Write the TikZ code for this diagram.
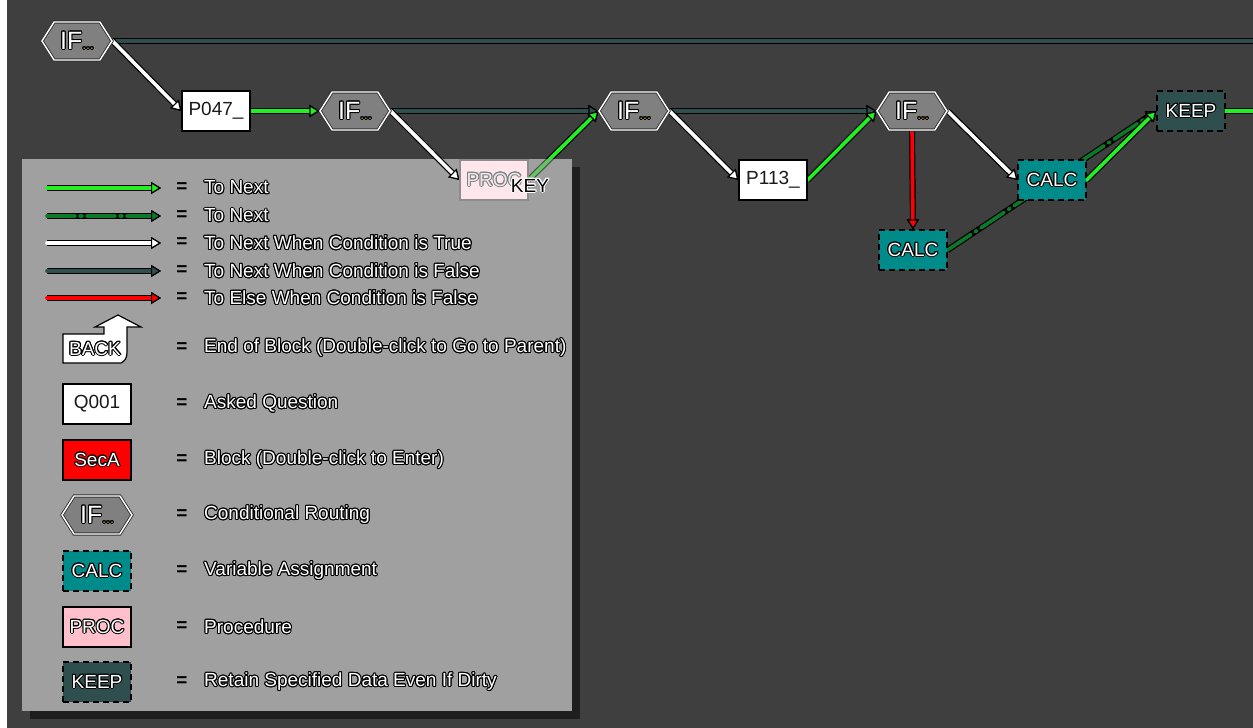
\documentclass[tikz,border=0pt]{standalone}
\usepackage{fontspec}
\setmainfont{Liberation Sans}
\usepackage{contour}
\usetikzlibrary{arrows.meta,shapes.symbols}
\contourlength{1pt}
\contournumber{16}

\definecolor{bgc}{HTML}{3F3F3F}
\definecolor{legc}{HTML}{A0A0A0}
\definecolor{shadowc}{HTML}{1E1E1E}
\definecolor{nextc}{HTML}{22F022}
\definecolor{dashc}{HTML}{0A7A28}
\definecolor{falsec}{HTML}{2F4F4F}
\definecolor{elsec}{HTML}{FF0000}
\definecolor{hexc}{HTML}{808080}
\definecolor{calcc}{HTML}{008B8B}
\definecolor{keepc}{HTML}{2F4F4F}
\definecolor{procc}{HTML}{FFC0CB}
\definecolor{dotc}{HTML}{B89A50}
\definecolor{textc}{HTML}{1A1A1A}

% outlined label text
\newcommand\outl[1]{\textcolor{white}{\contour{black}{#1}}}
\newcommand\iflbl{{\fontsize{25}{25}\selectfont\outl{IF}}{\fontsize{14}{14}\selectfont\textcolor{dotc}{\contour{black}{...}}}}

\pgfdeclarelayer{back}
\pgfdeclarelayer{edges}
\pgfsetlayers{back,edges,main}

\tikzset{
  lbl/.style={font=\fontsize{19}{21}\selectfont},
  flow/.style={draw=#1, line width=3.6pt, line cap=round,
    preaction={draw=black, line width=6pt},
    >={Triangle[length=10pt, width=12pt, fill=#1, color=black, line width=1.2pt]}},
  tonext/.style={flow=nextc},
  tonextdash/.style={flow=dashc, dash pattern=on 28pt off 5pt on 2pt off 5pt},
  istrue/.style={flow=white},
  isfalse/.style={flow=falsec},
  iselse/.style={flow=elsec},
  box/.style={lbl, draw=black, line width=1.2pt, minimum width=68pt,
    minimum height=40pt, inner sep=0pt},
  qbox/.style={box, fill=white, text=textc},
  secbox/.style={box, fill=red},
  procbox/.style={box, fill=procc},
  calcbox/.style={box, fill=calcc, dash pattern=on 6pt off 4pt},
  keepbox/.style={box, fill=keepc, dash pattern=on 6pt off 4pt},
  ifhex/.style={shape=signal, signal to=west and east, signal pointer angle=115,
    fill=hexc, draw=black!80, double=white, double distance=1.4pt, line width=0.9pt,
    minimum width=70pt, minimum height=38pt, inner sep=0pt},
  eqsign/.style={lbl, text=black, inner sep=0pt, font=\fontsize{19}{21}\selectfont\bfseries},
  keytext/.style={lbl, anchor=west, inner sep=0pt},
}

\begin{document}
\begin{tikzpicture}[x=1pt, y=-1pt]
\useasboundingbox (0,0) rectangle (1253,728);

\begin{pgfonlayer}{back}
\fill[bgc] (0,0) rectangle (1253,728);
\fill[white] (0,0) rectangle (7,728);
% key panel with its shadow
\fill[shadowc] (30,167) rectangle (580,719);
\fill[legc] (22,159) rectangle (572,711);
\end{pgfonlayer}

% routing
\node[ifhex] (if1) at (77,41) {\iflbl};
\node[qbox] (p047) at (216,111) {P047\_};
\node[ifhex] (if2) at (355,111) {\iflbl};
\node[procbox, fill=procc!40!white, draw=black!45] (proc) at (494,180)
  {\textcolor{white!85!gray}{\contour{gray}{PROC}}};
\node[ifhex] (if3) at (634,111) {\iflbl};
\node[qbox] (p113) at (773,180) {P113\_};
\node[ifhex] (if4) at (912,111) {\iflbl};
\node[calcbox] (calc1) at (913,250) {\outl{CALC}};
\node[calcbox] (calc2) at (1052,180) {\outl{CALC}};
\node[keepbox] (keep) at (1191,111) {\outl{KEEP}};
\coordinate (endtop) at (1265,41);
\coordinate (endkeep) at (1265,111);

\begin{pgfonlayer}{edges}
\draw[isfalse] (if1.east) -- (endtop);
\draw[istrue, ->] (if1.east) -- (p047.west);
\draw[tonext, ->] (p047.east) -- (if2.west);
\draw[isfalse, ->] (if2.east) -- (if3.west);
\draw[istrue, ->] (if2.east) -- (proc.west);
\draw[tonext, ->] (proc.east) -- (if3.west);
\fill[legc, opacity=.5] (529,159) rectangle (572,196);
\draw[isfalse, ->] (if3.east) -- (if4.west);
\draw[istrue, ->] (if3.east) -- (p113.west);
\draw[tonext, ->] (p113.east) -- (if4.west);
\draw[iselse, ->] (if4.south) -- (calc1.north);
\draw[istrue, ->] (if4.east) -- (calc2.west);
\draw[tonextdash, ->] (calc1.east) -- (keep.west);
\draw[tonext, ->] (calc2.east) -- (keep.west);
\draw[tonext] (keep.east) -- (endkeep);
\end{pgfonlayer}

% key: connector samples
\foreach \yy [count=\i] in {188,216,243,271,298} {
  \coordinate (ka\i) at (47,\yy);
  \coordinate (kb\i) at (161,\yy);
}
\draw[tonext, ->] (ka1) -- (kb1);
\draw[tonextdash, ->] (ka2) -- (kb2);
\draw[istrue, ->] (ka3) -- (kb3);
\draw[isfalse, ->] (ka4) -- (kb4);
\draw[iselse, ->] (ka5) -- (kb5);

% key: node samples
\draw[fill=white, line width=1.2pt] (63,334) -- (104,334) -- (104,327) -- (95,327)
  -- (118,315) -- (141,327) -- (127,327) -- (127,352)
  .. controls (127,358) and (125,361) .. (121,363) -- (63,363) -- cycle;
\node[lbl] (kback) at (95,349) {\outl{BACK}};
\node[qbox] (kq) at (97,404) {Q001};
\node[secbox] (ksec) at (97,460) {\outl{SecA}};
\node[ifhex] (kif) at (97,515) {\iflbl};
\node[calcbox] (kcalc) at (97,571) {\outl{CALC}};
\node[procbox] (kproc) at (97,627) {\outl{PROC}};
\node[keepbox] (kkeep) at (97,682) {\outl{KEEP}};

% key: descriptions
\foreach \yy/\txt [count=\i] in {188/To Next, 216/To Next,
    243/To Next When Condition is True, 271/To Next When Condition is False,
    298/To Else When Condition is False,
    348/End of Block (Double-click to Go to Parent), 404/Asked Question,
    460/Block (Double-click to Enter), 515/Conditional Routing,
    571/Variable Assignment, 627/Procedure,
    682/Retain Specified Data Even If Dirty} {
  \node[eqsign] (eq\i) at (182,\yy) {=};
  \node[keytext] (kt\i) at (204,\yy) {\outl{\txt}};
}

\node[lbl] (keylbl) at (530,186) {\contour{white}{KEY}};
\end{tikzpicture}
\end{document}
